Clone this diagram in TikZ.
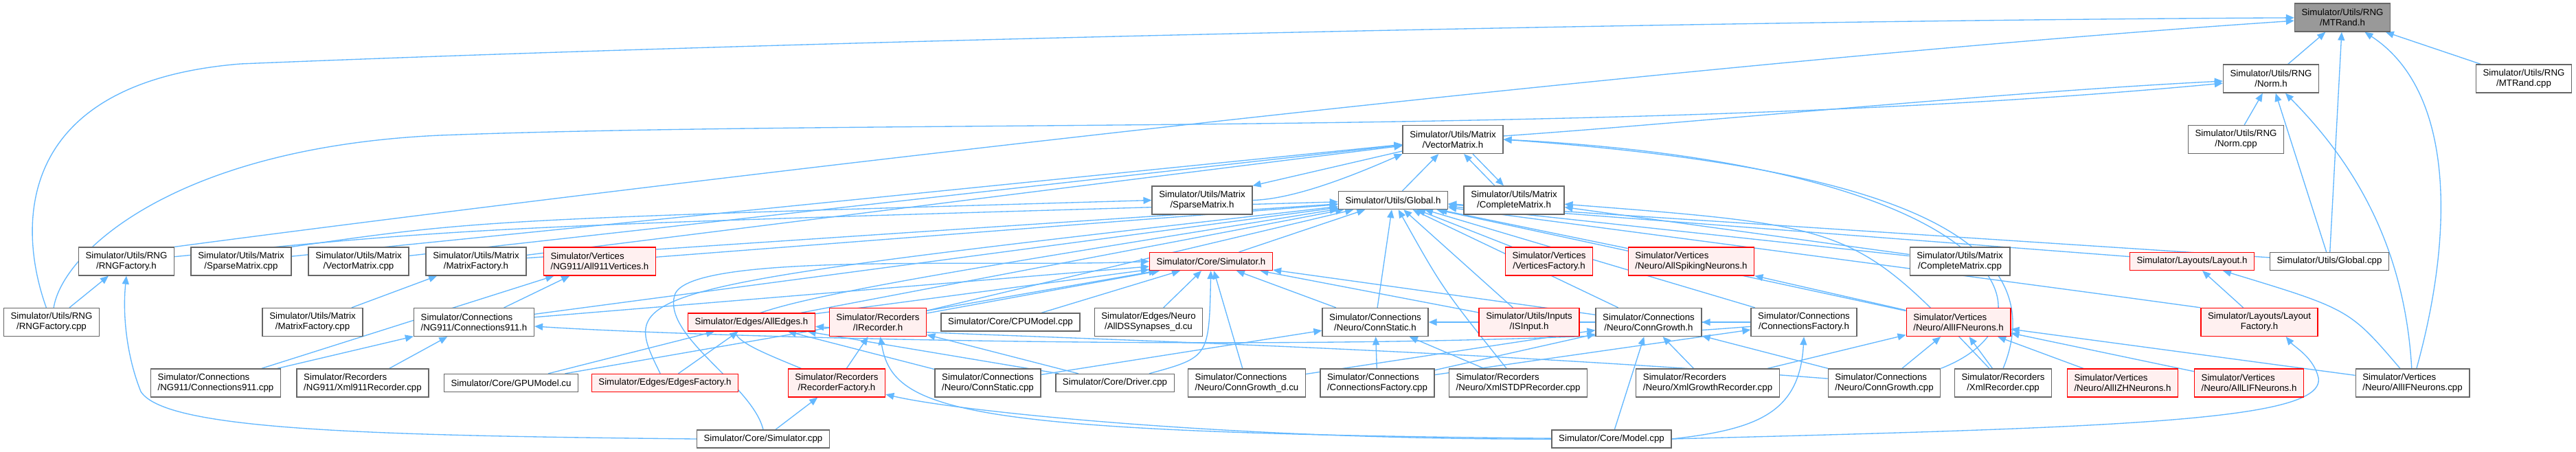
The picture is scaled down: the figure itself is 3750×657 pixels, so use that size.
\documentclass[tikz,border=0pt]{standalone}
\usepackage{fontspec}
\newfontfamily\dotsans{Liberation Sans}
\usetikzlibrary{arrows.meta,backgrounds}
\definecolor{edgeBlue}{HTML}{63B8FF}
\definecolor{boxGray}{HTML}{666666}
\definecolor{rootFill}{HTML}{999999}
\definecolor{truncRed}{HTML}{FF0000}
\definecolor{truncBg}{HTML}{FFF0F0}
\newcommand{\dxfont}{\dotsans\fontsize{10}{11.25}\selectfont}
\tikzset{
  file/.style={
    rectangle, draw=boxGray, line width=1bp, fill=white,
    inner xsep=7.6bp, inner ysep=0pt, minimum height=30.75bp,
    align=center, font=\dxfont,
  },
  fileL/.style={file, align=left},
  fileOne/.style={file, minimum height=19.5bp},
  trunc/.style={draw=truncRed, fill=truncBg},
  root/.style={fill=rootFill},
  incl/.style={
    -{Triangle[length=9bp,width=7.5bp]}, draw=edgeBlue, line width=1bp,
  },
}

\begin{document}
\begin{tikzpicture}[x=0.75bp, y=-0.75bp]
\useasboundingbox (0,0) rectangle (3750,657);

% rank 1 to 4
\node[file, root] (mtrandh) at (3410,25.5) {Simulator/Utils/RNG\\/MTRand.h};
\node[file] (normh) at (3306,114.5) {Simulator/Utils/RNG\\/Norm.h};
\node[file] (mtrandcpp) at (3674,114.5) {Simulator/Utils/RNG\\/MTRand.cpp};
\node[file] (vecmath) at (2115,203) {Simulator/Utils/Matrix\\/VectorMatrix.h};
\node[file] (normcpp) at (3255,203) {Simulator/Utils/RNG\\/Norm.cpp};
\node[file] (sparseh) at (1750,291.5) {Simulator/Utils/Matrix\\/SparseMatrix.h};
\node[fileOne] (globalh) at (2028,291.5) {Simulator/Utils/Global.h};
\node[file] (completeh) at (2204,291.5) {Simulator/Utils/Matrix\\/CompleteMatrix.h};

% rank 5
\node[file] (rngfach) at (184,380.5) {Simulator/Utils/RNG\\/RNGFactory.h};
\node[file] (sparsecpp) at (351,380.5) {Simulator/Utils/Matrix\\/SparseMatrix.cpp};
\node[file] (veccpp) at (522,380.5) {Simulator/Utils/Matrix\\/VectorMatrix.cpp};
\node[file] (matfach) at (693,380.5) {Simulator/Utils/Matrix\\/MatrixFactory.h};
\node[fileL, trunc] (v911h) at (873,380.5) {Simulator/Vertices\\/NG911/All911Vertices.h};
\node[fileOne, trunc] (simh) at (1763,380.5) {Simulator/Core/Simulator.h};
\node[file, trunc] (vfach) at (2255,380.5) {Simulator/Vertices\\/VerticesFactory.h};
\node[fileL, trunc] (spikh) at (2462,380.5) {Simulator/Vertices\\/Neuro/AllSpikingNeurons.h};
\node[file] (completecpp) at (2853,380.5) {Simulator/Utils/Matrix\\/CompleteMatrix.cpp};
\node[fileOne, trunc] (layouth) at (3191,380.5) {Simulator/Layouts/Layout.h};
\node[fileOne] (globalcpp) at (3391,380.5) {Simulator/Utils/Global.cpp};

% rank 6
\node[file] (rngfaccpp) at (75,469) {Simulator/Utils/RNG\\/RNGFactory.cpp};
\node[file] (matfaccpp) at (455,469) {Simulator/Utils/Matrix\\/MatrixFactory.cpp};
\node[fileL] (c911h) at (690,469) {Simulator/Connections\\/NG911/Connections911.h};
\node[fileOne, trunc] (edgesh) at (1094,469) {Simulator/Edges/AllEdges.h};
\node[file, trunc] (irech) at (1278,469) {Simulator/Recorders\\/IRecorder.h};
\node[fileOne] (cpumodel) at (1471,469) {Simulator/Core/CPUModel.cpp};
\node[file] (dssyn) at (1672,469) {Simulator/Edges/Neuro\\/AllDSSynapses\_d.cu};
\node[file] (cstath) at (2002,469) {Simulator/Connections\\/Neuro/ConnStatic.h};
\node[file, trunc] (isinput) at (2226,469) {Simulator/Utils/Inputs\\/ISInput.h};
\node[file] (cgrowh) at (2400,469) {Simulator/Connections\\/Neuro/ConnGrowth.h};
\node[file] (cfach) at (2626,469) {Simulator/Connections\\/ConnectionsFactory.h};
\node[fileL, trunc] (ifh) at (2851,469) {Simulator/Vertices\\/Neuro/AllIFNeurons.h};
\node[file, trunc] (lfach) at (3289,469) {Simulator/Layouts/Layout\\Factory.h};

% rank 7
\node[fileL] (c911cpp) at (314,557.5) {Simulator/Connections\\/NG911/Connections911.cpp};
\node[fileL] (x911rec) at (528,557.5) {Simulator/Recorders\\/NG911/Xml911Recorder.cpp};
\node[fileOne] (gpumodel) at (744,557.5) {Simulator/Core/GPUModel.cu};
\node[fileOne, trunc] (efach) at (968,557.5) {Simulator/Edges/EdgesFactory.h};
\node[file, trunc] (rfach) at (1218,557.5) {Simulator/Recorders\\/RecorderFactory.h};
\node[file] (cstatcpp) at (1438,557.5) {Simulator/Connections\\/Neuro/ConnStatic.cpp};
\node[fileOne] (driver) at (1623,557.5) {Simulator/Core/Driver.cpp};
\node[fileL] (cgrowd) at (1815,557.5) {Simulator/Connections\\/Neuro/ConnGrowth\_d.cu};
\node[fileL] (cfaccpp) at (2005,557.5) {Simulator/Connections\\/ConnectionsFactory.cpp};
\node[fileL] (xstdp) at (2210,557.5) {Simulator/Recorders\\/Neuro/XmlSTDPRecorder.cpp};
\node[fileL] (xgrowrec) at (2486,557.5) {Simulator/Recorders\\/Neuro/XmlGrowthRecorder.cpp};
\node[fileL] (cgrowcpp) at (2743,557.5) {Simulator/Connections\\/Neuro/ConnGrowth.cpp};
\node[file] (xmlrec) at (2916,557.5) {Simulator/Recorders\\/XmlRecorder.cpp};
\node[fileL, trunc] (izhh) at (3090,557.5) {Simulator/Vertices\\/Neuro/AllIZHNeurons.h};
\node[fileL, trunc] (lifh) at (3274,557.5) {Simulator/Vertices\\/Neuro/AllLIFNeurons.h};
\node[fileL] (ifcpp) at (3512,557.5) {Simulator/Vertices\\/Neuro/AllIFNeurons.cpp};

% rank 8
\node[fileOne] (simcpp) at (1111,639) {Simulator/Core/Simulator.cpp};
\node[fileOne] (modelcpp) at (2346,639) {Simulator/Core/Model.cpp};

\begin{scope}[on background layer]
\fill[white] (0,0) rectangle (3750,657);

% into MTRand.h
\draw[incl] (normh) -- (mtrandh);
\draw[incl] (mtrandcpp) -- (mtrandh);
\draw[incl] (globalcpp) -- (mtrandh);
\draw[incl] (ifcpp) .. controls (3575,330) and (3570,130) .. (mtrandh);
\draw[incl] (rngfach.north east) .. controls (700,300) and (2300,100) .. (mtrandh);
\draw[incl] (rngfaccpp) .. controls (25,330) and (20,120) .. (350,93)
  .. controls (1200,58) and (2500,30) .. (mtrandh);

% into Norm.h
\draw[incl] (normcpp) -- (normh);
\draw[incl] (vecmath) .. controls (2450,180) and (2900,135) .. (normh);
\draw[incl] (globalcpp) -- (normh);
\draw[incl] (ifcpp) .. controls (3500,350) and (3420,230) .. (normh);
\draw[incl] (rngfaccpp) .. controls (90,370) and (250,215) .. (640,197)
  .. controls (1300,172) and (2400,200) .. (normh);

% matrices
\draw[incl] (globalh) -- (vecmath);
\draw[incl] ([xshift=-21bp]completeh.north) -- ([xshift=12bp]vecmath.south);
\draw[incl] ([xshift=21.75bp]vecmath.south) -- ([xshift=-11.25bp]completeh.north);
\draw[incl] (sparseh.east) .. controls (1880,290) and (1960,260) .. (vecmath.south west);
\draw[incl] (vecmath) -- (sparseh.north east);
\draw[incl] (veccpp) -- (vecmath);
\draw[incl] (sparsecpp) -- (vecmath);
\draw[incl] (matfach) -- (vecmath);
\draw[incl] (xmlrec.north) .. controls (3000,330) and (2700,240) .. (vecmath.east);
\draw[incl] (cgrowcpp.north east) .. controls (3020,460) and (2900,240) .. (vecmath.east);
\draw[incl] (sparsecpp.north east) .. controls (700,320) .. (sparseh.west);
\draw[incl] (completecpp) -- (completeh);
\draw[incl] (xmlrec) .. controls (2700,330) .. (completeh);
\draw[incl] (matfaccpp) -- (matfach);

% into Global.h
\draw[incl] (rngfach) .. controls (700,330) .. (globalh);
\draw[incl] (matfach) -- (globalh);
\draw[incl] (v911h) -- (globalh);
\draw[incl] (c911h) -- (globalh);
\draw[incl] (simh) -- (globalh);
\draw[incl] (edgesh) -- (globalh);
\draw[incl] (irech) -- (globalh);
\draw[incl] (cstath) -- (globalh);
\draw[incl] (isinput) -- (globalh);
\draw[incl] (cgrowh) -- (globalh);
\draw[incl] (vfach) -- (globalh);
\draw[incl] (spikh) -- (globalh);
\draw[incl] (layouth) -- (globalh);
\draw[incl] (completecpp) -- (globalh);
\draw[incl] (globalcpp) -- (globalh);
\draw[incl] (efach) .. controls (900,420) .. (globalh);
\draw[incl] (rfach) .. controls (980,460) .. (globalh);
\draw[incl] (xstdp) .. controls (2100,420) .. (globalh);
\draw[incl] (ifh) -- (globalh);
\draw[incl] (cfach) -- (globalh);
\draw[incl] (lfach.north west) .. controls (3000,420) .. (globalh);

% into Simulator.h
\draw[incl] (c911h) -- (simh);
\draw[incl] (edgesh) -- (simh);
\draw[incl] (irech) -- (simh);
\draw[incl] (cpumodel) -- (simh);
\draw[incl] (dssyn) -- (simh);
\draw[incl] (driver) .. controls (1760,520) .. (simh);
\draw[incl] (cgrowd) -- (simh);
\draw[incl] (cstath) -- (simh);
\draw[incl] (cgrowh) -- (simh);
\draw[incl] (isinput) -- (simh);
\draw[incl] (gpumodel) -- (simh);
\draw[incl] (simcpp.north) .. controls (1095,560) and (965,490) .. (982,430)
  .. controls (1000,365) and (1450,390) .. (simh.west);

% rank 5 to 6 headers
\draw[incl] (rngfaccpp) -- (rngfach);
\draw[incl] (simcpp.west) .. controls (520,634) and (240,625) .. (205,570)
  .. controls (185,520) and (178,460) .. (rngfach.south);
\draw[incl] (c911cpp) -- (v911h);
\draw[incl] (c911h) -- (v911h);
\draw[incl] (ifh) -- (spikh);
\draw[incl] (lfach) -- (layouth);
\draw[incl] (ifcpp) .. controls (3420,450) .. (layouth);

% connections
\draw[incl] (c911cpp) -- (c911h);
\draw[incl] (x911rec) -- (c911h);
\draw[incl] (cfach) .. controls (2000,520) and (1000,490) .. (c911h);
\draw[incl] (cstatcpp) -- (cstath);
\draw[incl] (cfaccpp) -- (cstath);
\draw[incl] (xstdp) -- (cstath);
\draw[incl] (cfach) -- (cstath);
\draw[incl] (cfaccpp) -- (cgrowh);
\draw[incl] (xgrowrec) -- (cgrowh);
\draw[incl] (modelcpp) -- (cgrowh);
\draw[incl] (cfach) -- (cgrowh);
\draw[incl] (cgrowcpp) -- (cgrowh);
\draw[incl] (cgrowd) -- (cgrowh);
\draw[incl] (cfaccpp) -- (cfach);
\draw[incl] (modelcpp.east) .. controls (2560,625) and (2620,600) .. (cfach.south);

% edges and recorders
\draw[incl] (gpumodel) -- (edgesh);
\draw[incl] (efach) -- (edgesh);
\draw[incl] (cstatcpp) -- (edgesh);
\draw[incl] (driver) -- (edgesh);
\draw[incl] (cgrowcpp) .. controls (2000,500) and (1400,490) .. (edgesh);
\draw[incl] (rfach) -- (irech);
\draw[incl] (driver) -- (irech);
\draw[incl] (modelcpp) .. controls (1400,630) and (1300,600) .. (irech);
\draw[incl] (simcpp) -- (rfach);
\draw[incl] (modelcpp) .. controls (1800,640) and (1400,600) .. (rfach);

% neurons and layouts
\draw[incl] (xmlrec) -- (ifh);
\draw[incl] (izhh) -- (ifh);
\draw[incl] (lifh) -- (ifh);
\draw[incl] (ifcpp) -- (ifh);
\draw[incl] (cgrowcpp) -- (ifh);
\draw[incl] (xgrowrec) -- (ifh);
\draw[incl] (modelcpp.east) .. controls (3100,622) and (3385,612) .. (3375,550)
  .. controls (3368,520) and (3340,505) .. ([xshift=29bp]lfach.south);
\end{scope}
\end{tikzpicture}
\end{document}
